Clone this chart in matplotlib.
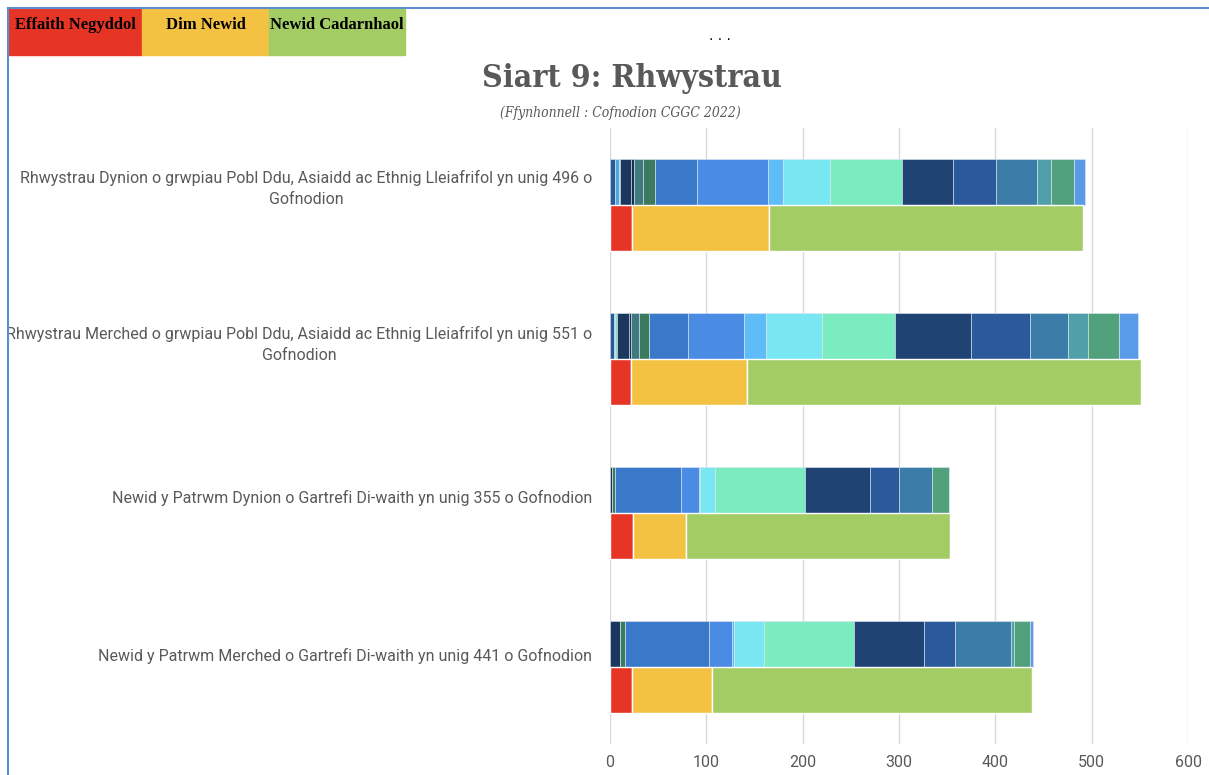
import numpy as np
import matplotlib.pyplot as plt
from matplotlib.patches import Rectangle
from matplotlib.lines import Line2D

# categories (top to bottom)
categories = [
    "Rhwystrau Dynion o grwpiau Pobl Ddu, Asiaidd ac Ethnig Lleiafrifol yn unig 496 o\nGofnodion",
    "Rhwystrau Merched o grwpiau Pobl Ddu, Asiaidd ac Ethnig Lleiafrifol yn unig 551 o\nGofnodion",
    "Newid y Patrwm Dynion o Gartrefi Di-waith yn unig 355 o Gofnodion",
    "Newid y Patrwm Merched o Gartrefi Di-waith yn unig 441 o Gofnodion",
]

# outcome bar (lower bar of each pair)
outcome_labels = ["Effaith Negyddol", "Dim Newid", "Newid Cadarnhaol"]
outcome_colors = ["#e63525", "#f4c242", "#a3cd64"]
negative = [23, 22, 24, 23]
no_change = [142, 120, 55, 83]
positive = [326, 409, 274, 332]

# barrier segments (upper bar of each pair), one list per segment, values per category
barrier_colors = [
    "#2b5a9c", "#4ea6e3", "#7be8bd", "#1b365f", "#16304f", "#3f7a80",
    "#3b7a5c", "#3a78c9", "#4a8be4", "#5ebcf8", "#79e7f2", "#7aecc0",
    "#1f4474", "#2a5a9c", "#3b7ca8", "#4fa0a8", "#50a17c", "#5a9be8",
]
b01 = [5, 4, 0, 0]
b02 = [4.5, 1, 0, 0]
b03 = [1, 2.5, 0, 0]
b04 = [11, 12, 2, 10]
b05 = [3, 2, 0, 0]
b06 = [10, 9, 0, 0]
b07 = [12, 10, 3, 6]
b08 = [44, 40, 69, 87]
b09 = [73, 59, 18, 24]
b10 = [16, 22, 1.5, 1.5]
b11 = [49, 59, 15.5, 31]
b12 = [75, 75, 93, 94]
b13 = [53, 79, 68, 72]
b14 = [44, 61, 29.5, 33]
b15 = [43, 40, 35, 57.5]
b16 = [14, 21, 0, 3]
b17 = [24, 32, 17, 17.5]
b18 = [12, 19.5, 0, 3]
barriers = [b01, b02, b03, b04, b05, b06, b07, b08, b09, b10, b11, b12,
            b13, b14, b15, b16, b17, b18]

xticks = [0, 100, 200, 300, 400, 500, 600]

label_font = ["Roboto", "DejaVu Sans"]
gray = "#595959"

fig = plt.figure(figsize=(12.09, 7.75), dpi=100)
ax = fig.add_axes([610 / 1209, 0.04, (1188 - 610) / 1209, 0.795])

y = np.arange(len(categories))
h = 0.30

left = np.zeros(len(categories))
for vals, col in zip(barriers, barrier_colors):
    vals = np.array(vals, dtype=float)
    ax.barh(y - h / 2, vals, height=h, left=left, color=col,
            edgecolor="#dfe8f0", linewidth=0.4, zorder=3)
    left += vals

left = np.zeros(len(categories))
for vals, col in zip([negative, no_change, positive], outcome_colors):
    vals = np.array(vals, dtype=float)
    ax.barh(y + h / 2, vals, height=h, left=left, color=col,
            edgecolor="white", linewidth=1.0, zorder=3)
    left += vals

ax.set_xlim(0, 600)
ax.set_ylim(3.5, -0.5)
ax.set_xticks(xticks)
ax.set_xticklabels([str(t) for t in xticks], fontsize=11.5, color=gray,
                   family=label_font)
# label positions sit a bit above the middle of each bar pair
ax.set_yticks(y - np.array([0.135, 0.12, 0.11, 0.08]))
ax.set_yticklabels(categories, fontsize=11.5, color=gray, family=label_font)
for lab in ax.get_yticklabels():
    lab.set_multialignment("center")
    lab.set_linespacing(1.5)
ax.tick_params(axis="both", length=0)
ax.tick_params(axis="y", pad=13)
ax.tick_params(axis="x", pad=8)
ax.grid(axis="x", color="#d9d9d9", linewidth=1, zorder=0)
for s in ax.spines.values():
    s.set_visible(False)

# titles
fig.text(632 / 1209, 1 - 78 / 775, "Siart 9: Rhwystrau", ha="center", va="center",
         fontsize=23, fontweight="bold", color=gray, family="DejaVu Serif",
         fontstretch="condensed")
fig.text(620 / 1209, 1 - 113 / 775, "(Ffynhonnell : Cofnodion CGGC 2022)",
         ha="center", va="center", fontsize=10, style="italic", color=gray,
         family="DejaVu Serif", fontstretch="condensed")
fig.text(720 / 1209, 1 - 36 / 775, ". . .", ha="center", va="center",
         fontsize=10, color="black")

# legend boxes at top left
box_x = [8, 142, 269]
box_w = [134, 127, 136]
for bx, bw, col, lab in zip(box_x, box_w, outcome_colors, outcome_labels):
    fig.add_artist(Rectangle((bx / 1209, 1 - 55 / 775), bw / 1209, 46 / 775,
                             transform=fig.transFigure, color=col, zorder=1))
    fig.text((bx + bw / 2) / 1209, 1 - 25 / 775, lab, ha="center", va="center",
             fontsize=12, fontweight="bold", color="black",
             family="Liberation Serif")

# frame lines
fig.add_artist(Line2D([8 / 1209, 1], [1 - 8 / 775, 1 - 8 / 775],
                      transform=fig.transFigure, color="#5b8fd0", linewidth=1.5))
fig.add_artist(Line2D([8 / 1209, 8 / 1209], [0, 1 - 8 / 775],
                      transform=fig.transFigure, color="#5b8fd0", linewidth=1.5))

fig.savefig("out.png", dpi=100, facecolor="white")
